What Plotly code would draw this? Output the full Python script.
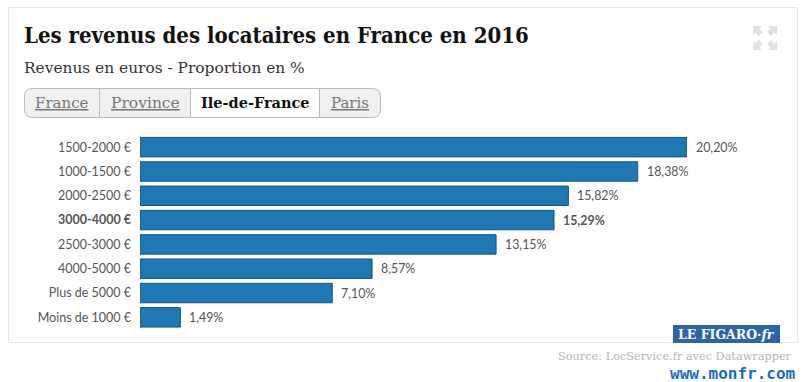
import plotly.graph_objects as go

categories = ["1500-2000 €", "1000-1500 €", "2000-2500 €", "3000-4000 €",
              "2500-3000 €", "4000-5000 €", "Plus de 5000 €", "Moins de 1000 €"]
values = [20.20, 18.38, 15.82, 15.29, 13.15, 8.57, 7.10, 1.49]
value_labels = ["20,20%", "18,38%", "15,82%", "15,29%", "13,15%", "8,57%", "7,10%", "1,49%"]
highlight = "3000-4000 €"
tabs = ["France", "Province", "Ile-de-France", "Paris"]
tab_edges = [24, 99, 190, 319, 380]
active_tab = "Ile-de-France"

W, H = 805, 382
LATO = "Lato, 'Noto Sans', sans-serif"
SLAB = "'DejaVu Serif Condensed', 'DejaVu Serif', serif"
SERIF = "'DejaVu Serif', serif"


def X(p):
    return p / W


def Y(p):
    return 1 - p / H


def rect(x0, y0, x1, y1, **kw):
    return dict(type="rect", xref="paper", yref="paper", x0=X(x0), x1=X(x1), y0=Y(y0), y1=Y(y1), **kw)


def text(x, y, s, size, color, anchor="left", family=LATO):
    return dict(xref="paper", yref="paper", x=X(x), y=Y(y), text=s, showarrow=False,
                xanchor=anchor, yanchor="middle", align=anchor, borderpad=0, borderwidth=0,
                font=dict(size=size, color=color, family=family))


def rounded_path(x0, y0, x1, y1, r_left, r_right):
    a0, a1, b0, b1 = X(x0), X(x1), Y(y0), Y(y1)
    rx = lambda r: r / W
    ry = lambda r: r / H
    return (f"M {a0 + rx(r_left)} {b0} L {a1 - rx(r_right)} {b0} "
            f"Q {a1} {b0} {a1} {b0 - ry(r_right)} L {a1} {b1 + ry(r_right)} "
            f"Q {a1} {b1} {a1 - rx(r_right)} {b1} L {a0 + rx(r_left)} {b1} "
            f"Q {a0} {b1} {a0} {b1 + ry(r_left)} L {a0} {b0 - ry(r_left)} "
            f"Q {a0} {b0} {a0 + rx(r_left)} {b0} Z")


def poly(points, color):
    path = "M " + " L ".join(f"{X(a)} {Y(b)}" for a, b in points) + " Z"
    return dict(type="path", xref="paper", yref="paper", path=path, fillcolor=color, line=dict(width=0))


fig = go.Figure(go.Bar(
    y=categories, x=values, orientation="h",
    marker=dict(color="#1f77b4", line=dict(color="#14567f", width=1)),
    hoverinfo="skip",
))

shapes = [rect(8.5, 7.5, 797.5, 342.5, line=dict(color="#e6e6e6", width=1), fillcolor="white", layer="below")]

# tab bar
for i, tab in enumerate(tabs):
    r_l = 8 if i == 0 else 0
    r_r = 8 if i == len(tabs) - 1 else 0
    shapes.append(dict(type="path", xref="paper", yref="paper",
                       path=rounded_path(tab_edges[i] + .5, 88.5, tab_edges[i + 1] + .5, 117.5, r_l, r_r),
                       fillcolor="white" if tab == active_tab else "#f0f0f0",
                       line=dict(color="#bbbbbb", width=1), layer="below"))

# expand icon: four small arrows pointing at the outer corners
ICON = "#e2e2e2"
for cx, cy, sx, sy in [(753, 26, 1, 1), (777, 26, -1, 1), (753, 50, 1, -1), (777, 50, -1, -1)]:
    shapes.append(poly([(cx, cy), (cx + 9 * sx, cy), (cx + 6.5 * sx, cy + 2.5 * sy), (cx + 10 * sx, cy + 6 * sy),
                        (cx + 6 * sx, cy + 10 * sy), (cx + 2.5 * sx, cy + 6.5 * sy), (cx, cy + 9 * sy)], ICON))

# logo
shapes.append(rect(673, 325, 780, 343, fillcolor="#2c64a8", line=dict(width=0)))

annotations = [
    text(24, 35, "<b>Les revenus des locataires en France en 2016</b>", 22, "#111111", family=SLAB),
    text(24, 68, "Revenus en euros - Proportion en %", 15.4, "#333333", family=SERIF),
    text(726.5, 334, "<b>LE FIGARO·<i>fr</i></b>", 12.5, "white", "center", SERIF),
    text(792, 356, "Source: LocService.fr avec Datawrapper", 11.3, "#b5b5b5", "right", SERIF),
    text(796, 373, "<b>www.monfr.com</b>", 16, "#1a6fc0", "right", "'DejaVu Sans Mono', monospace"),
]
for i, tab in enumerate(tabs):
    cx = (tab_edges[i] + tab_edges[i + 1]) / 2
    if tab == active_tab:
        annotations.append(text(cx + 0.5, 103, f"<b>{tab}</b>", 14.5, "#111111", "center", SERIF))
    else:
        annotations.append(text(cx + 0.5, 103, f"<u>{tab}</u>", 15.5 if tab == "Province" else 15, "#777777", "center", SERIF))

# value labels placed from the data
for c, v, t in zip(categories, values, value_labels):
    annotations.append(dict(xref="x", yref="y", x=v, y=c, xanchor="left", yanchor="middle",
                            xshift=8, showarrow=False, borderpad=0,
                            text=f"<b>{t}</b>" if c == highlight else t,
                            font=dict(family=LATO, size=12.4, color="#555555")))

fig.update_layout(
    width=W, height=H, margin=dict(l=0, r=0, t=0, b=0, pad=0),
    paper_bgcolor="white", plot_bgcolor="rgba(0,0,0,0)",
    showlegend=False, bargap=0.2,
    xaxis=dict(domain=[140 / W, 687 / W], range=[0, 20.20], visible=False),
    yaxis=dict(domain=[1 - 329.5 / H, 1 - 135 / H], anchor="x", autorange="reversed",
               type="category", categoryorder="array", categoryarray=categories,
               tickmode="array", tickvals=categories,
               ticktext=[f"<b>{c}</b>" if c == highlight else c for c in categories],
               showline=False, showgrid=False, ticks="", ticklen=0, ticklabelstandoff=8,
               tickfont=dict(family=LATO, size=12.5, color="#555555"), automargin=False),
    shapes=shapes, annotations=annotations,
)
fig.write_html("out.html", config=dict(displayModeBar=False),
               post_script="document.body.style.margin='0';document.documentElement.style.overflow='hidden';")
